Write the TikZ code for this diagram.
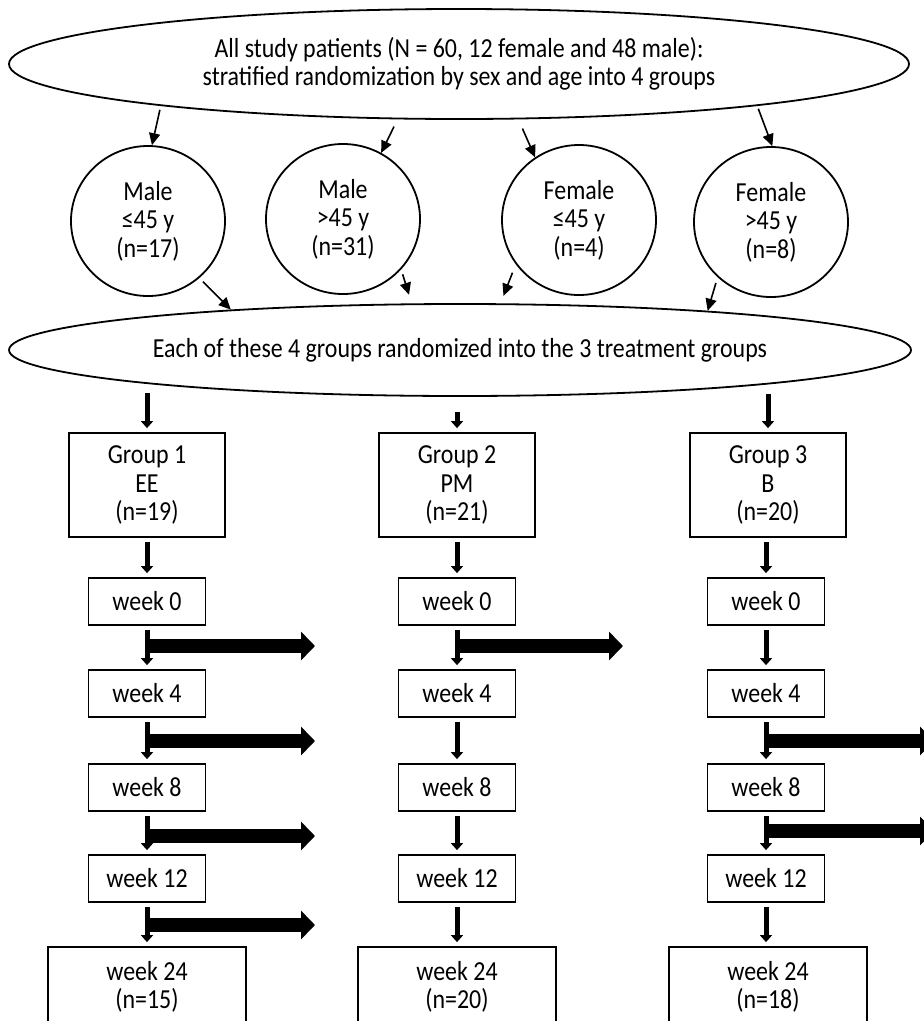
\documentclass[tikz,border=0pt]{standalone}
\usepackage{fontspec}
\setmainfont{Carlito}[FakeStretch=0.87]
\usetikzlibrary{shapes.geometric,arrows.meta}

\begin{document}
\begin{tikzpicture}[x=1pt, y=-1pt, align=center, font=\fontsize{27.5}{28.5}\selectfont]
\tikzstyle{oval} = [ellipse, draw=black, line width=1.8pt, inner sep=0pt]
\tikzstyle{sub} = [ellipse, draw=black, line width=1.8pt, inner sep=0pt, minimum width=154pt, minimum height=150pt]
\tikzstyle{grp} = [rectangle, draw=black, line width=1.8pt, minimum width=156pt, minimum height=104pt]
\tikzstyle{wk} = [rectangle, draw=black, line width=1.8pt, minimum width=117pt, minimum height=47pt]
\tikzstyle{fin} = [wk, minimum width=198pt, minimum height=80pt]
\tikzstyle{ptr} = [draw=black, line width=1.6pt, -{Triangle[width=11pt,length=12pt]}]
\tikzstyle{stp} = [draw=black, line width=5pt, -{Triangle[width=12pt,length=7pt]}, shorten <=4pt, shorten >=4pt]
\tikzstyle{drop} = [draw=black, line width=14pt, -{Triangle[width=28pt,length=14pt]}]

\useasboundingbox (0,0) rectangle (924,1021);
\clip (0,0) rectangle (924,1021);

\node[oval, minimum width=900pt, minimum height=110pt] (all) at (459,64) {All study patients (N = 60, 12 female and 48 male):\\stratified randomization by sex and age into 4 groups};
\node[sub] (m1) at (148,221) {Male\\≤45 y\\(n=17)};
\node[sub] (m2) at (343,219) {Male\\>45 y\\(n=31)};
\node[sub] (f1) at (579,220) {Female\\≤45 y\\(n=4)};
\node[sub] (f2) at (771,222) {Female\\>45 y\\(n=8)};
\node[oval, minimum width=902pt, minimum height=92pt] (mix) at (460,350) {Each of these 4 groups randomized into the 3 treatment groups};

\node[grp] (g1) at (147,485) {Group 1\\EE\\(n=19)};
\node[grp] (g2) at (457,485) {Group 2\\PM\\(n=21)};
\node[grp] (g3) at (768,485) {Group 3\\B\\(n=20)};

\node[wk] (g1w0) at (147,601.5) {week 0};
\node[wk] (g1w4) at (147,693.5) {week 4};
\node[wk] (g1w8) at (147,787.5) {week 8};
\node[wk] (g1w12) at (147,878.5) {week 12};
\node[fin] (g1w24) at (147,987) {week 24\\(n=15)};
\node[wk] (g2w0) at (457,601.5) {week 0};
\node[wk] (g2w4) at (457,693.5) {week 4};
\node[wk] (g2w8) at (457,787.5) {week 8};
\node[wk] (g2w12) at (457,878.5) {week 12};
\node[fin] (g2w24) at (457,987) {week 24\\(n=20)};
\node[wk] (g3w0) at (766,601.5) {week 0};
\node[wk] (g3w4) at (766,693.5) {week 4};
\node[wk] (g3w8) at (766,787.5) {week 8};
\node[wk] (g3w12) at (766,878.5) {week 12};
\node[fin] (g3w24) at (768,987) {week 24\\(n=18)};

\coordinate (d11) at (315,646);
\coordinate (d12) at (315,741);
\coordinate (d13) at (315,836);
\coordinate (d14) at (315,925);
\coordinate (d21) at (623,646);
\coordinate (d32) at (934,741);
\coordinate (d33) at (934,831);

\draw[ptr, shorten <=4pt] (all.188) to (m1.87);
\draw[ptr, shorten <=8pt] (all.222) to (m2.60);
\draw[ptr, shorten <=10pt] (all.317) to (f1.125);
\draw[ptr, shorten <=3pt] (all.352) to (f2.89);
\draw[ptr, shorten <=5pt] (m1.-48) to (mix.170);
\draw[ptr, shorten <=5pt, shorten >=9pt] (m2.-41) to (mix.136);
\draw[ptr, shorten <=9pt, shorten >=8pt] (f1.-145) to (mix.49);
\draw[ptr, shorten <=6pt] (f2.226) to (mix.9);

\draw[stp, shorten <=-4pt] (mix.south -| g1) to (g1);
\draw[stp, shorten <=15pt] (mix.south -| g2) to (g2);
\draw[stp, shorten <=-3pt] (mix.south -| g3) to (g3);

\draw[stp] (g1) to (g1w0);
\draw[stp] (g1w0) to (g1w4);
\draw[stp] (g1w4) to (g1w8);
\draw[stp] (g1w8) to (g1w12);
\draw[stp] (g1w12) to (g1w24);
\draw[stp] (g2) to (g2w0);
\draw[stp] (g2w0) to (g2w4);
\draw[stp] (g2w4) to (g2w8);
\draw[stp] (g2w8) to (g2w12);
\draw[stp] (g2w12) to (g2w24);
\draw[stp] (g3.south -| g3w0) to (g3w0);
\draw[stp] (g3w0) to (g3w4);
\draw[stp] (g3w4) to (g3w8);
\draw[stp] (g3w8) to (g3w12);
\draw[stp] (g3w12) to (g3w12 |- g3w24.north);

\draw[drop] (g1w0.south |- d11) to (d11);
\draw[drop] (g1w4.south |- d12) to (d12);
\draw[drop] (g1w8.south |- d13) to (d13);
\draw[drop] (g1w12.south |- d14) to (d14);
\draw[drop] (g2w0.south |- d21) to (d21);
\draw[drop] (g3w4.south |- d32) to (d32);
\draw[drop] (g3w8.south |- d33) to (d33);
\end{tikzpicture}
\end{document}
